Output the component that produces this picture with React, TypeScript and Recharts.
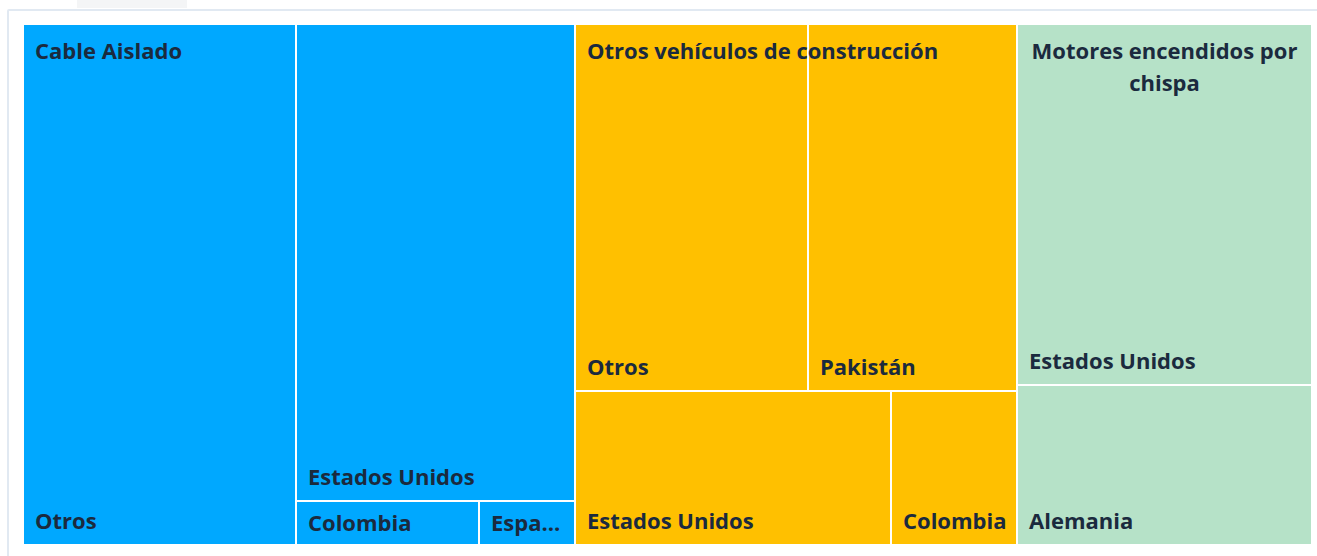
import React from "react";
import { Treemap } from "recharts";

const GROUP_NAMES = ["Cable Aislado", "Otros vehículos de construcción", "Motores encendidos por chispa"];
const GROUP_COLORS = ["#00A8FF", "#FFC000", "#B6E2C8"];

const CABLE_COUNTRIES = ["Otros", "Estados Unidos", "Colombia", "España"];
const CABLE_VALUES = [141.7, 132.6, 8.0, 4.0];

const VEHICLE_COUNTRIES = ["Otros", "Pakistán", "Estados Unidos", "Colombia"];
const VEHICLE_VALUES = [85.3, 76.1, 48.5, 19.4];

const MOTOR_COUNTRIES = ["Estados Unidos", "Alemania"];
const MOTOR_VALUES = [105.8, 46.7];

const LEAVES = [
  [CABLE_COUNTRIES, CABLE_VALUES],
  [VEHICLE_COUNTRIES, VEHICLE_VALUES],
  [MOTOR_COUNTRIES, MOTOR_VALUES],
] as const;

const data = GROUP_NAMES.map((g, gi) => ({
  name: g,
  color: GROUP_COLORS[gi],
  children: LEAVES[gi][0].map((c, i) => ({ name: c, value: LEAVES[gi][1][i] })),
}));

const FONT = "'Open Sans', 'Noto Sans', sans-serif";
const TEXT_COLOR = "#1B2A3E";
const FONT_SIZE = 22;

let ctx: CanvasRenderingContext2D | null = null;
const measure = (s: string) => {
  if (!ctx && typeof document !== "undefined") {
    ctx = document.createElement("canvas").getContext("2d");
  }
  if (!ctx) return s.length * 12.5;
  ctx.font = `700 ${FONT_SIZE}px ${FONT}`;
  return ctx.measureText(s).width;
};

const fitText = (s: string, avail: number) => {
  if (measure(s) <= avail) return s;
  for (let n = s.length - 1; n > 0; n--) {
    const t = s.slice(0, n) + "...";
    if (measure(t) <= avail) return t;
  }
  return s.slice(0, 1) + "...";
};

const wrapText = (s: string, avail: number) => {
  const words = s.split(" ");
  const lines: string[] = [];
  let cur = "";
  words.forEach((w) => {
    const next = cur ? cur + " " + w : w;
    if (measure(next) > avail && cur) {
      lines.push(cur);
      cur = w;
    } else cur = next;
  });
  if (cur) lines.push(cur);
  return lines;
};

const CellContent = (props: any) => {
  const { x, y, width, height, depth, name, root, index } = props;
  if (depth !== 2) return null;
  const color = root?.color ?? "#ccc";

  // leaf label: bottom-left, centred vertically when the cell is short
  const baseline = height < 60 ? y + height / 2 + 8 : y + height - 16;

  // group label drawn with the last child so it sits above all siblings
  let groupLabel = null;
  if (root && root.children && index === root.children.length - 1) {
    const lines = wrapText(root.name, root.width - 16);
    const centered = lines.length > 1;
    const lx = centered ? root.x + root.width / 2 : root.x + 12;
    groupLabel = (
      <text
        x={lx}
        y={root.y + 35}
        textAnchor={centered ? "middle" : "start"}
        fill={TEXT_COLOR}
        fontFamily={FONT}
        fontWeight={700}
        fontSize={FONT_SIZE}
        stroke="none"
      >
        {lines.map((l, i) => (
          <tspan key={i} x={lx} dy={i === 0 ? 0 : 32}>
            {l}
          </tspan>
        ))}
      </text>
    );
  }

  return (
    <g>
      <rect x={x} y={y} width={width} height={height} fill={color} stroke="#fff" strokeWidth={2} />
      <text
        x={x + 12}
        y={baseline}
        fill={TEXT_COLOR}
        fontFamily={FONT}
        fontWeight={700}
        fontSize={FONT_SIZE}
        stroke="none"
      >
        {fitText(name, width - 20)}
      </text>
      {groupLabel}
    </g>
  );
};

export default function App() {
  return (
    <div
      style={{
        position: "absolute",
        left: 0,
        top: 0,
        width: 1317,
        height: 556,
        background: "#fff",
        overflow: "hidden",
      }}
    >
      {/* faint tab behind the card */}
      <div style={{ position: "absolute", left: 77, top: 0, width: 110, height: 8, background: "#f4f5f6" }} />

      {/* card */}
      <div
        style={{
          position: "absolute",
          left: 7,
          top: 9,
          width: 1330,
          height: 570,
          border: "2px solid #e1e9f2",
          borderRadius: 2,
          background: "#fff",
        }}
      />

      <div style={{ position: "absolute", left: 23, top: 24 }}>
        <Treemap
          width={1289}
          height={521}
          data={data}
          dataKey="value"
          nameKey="name"
          aspectRatio={1}
          stroke="#fff"
          isAnimationActive={false}
          content={<CellContent />}
        />
      </div>
    </div>
  );
}
